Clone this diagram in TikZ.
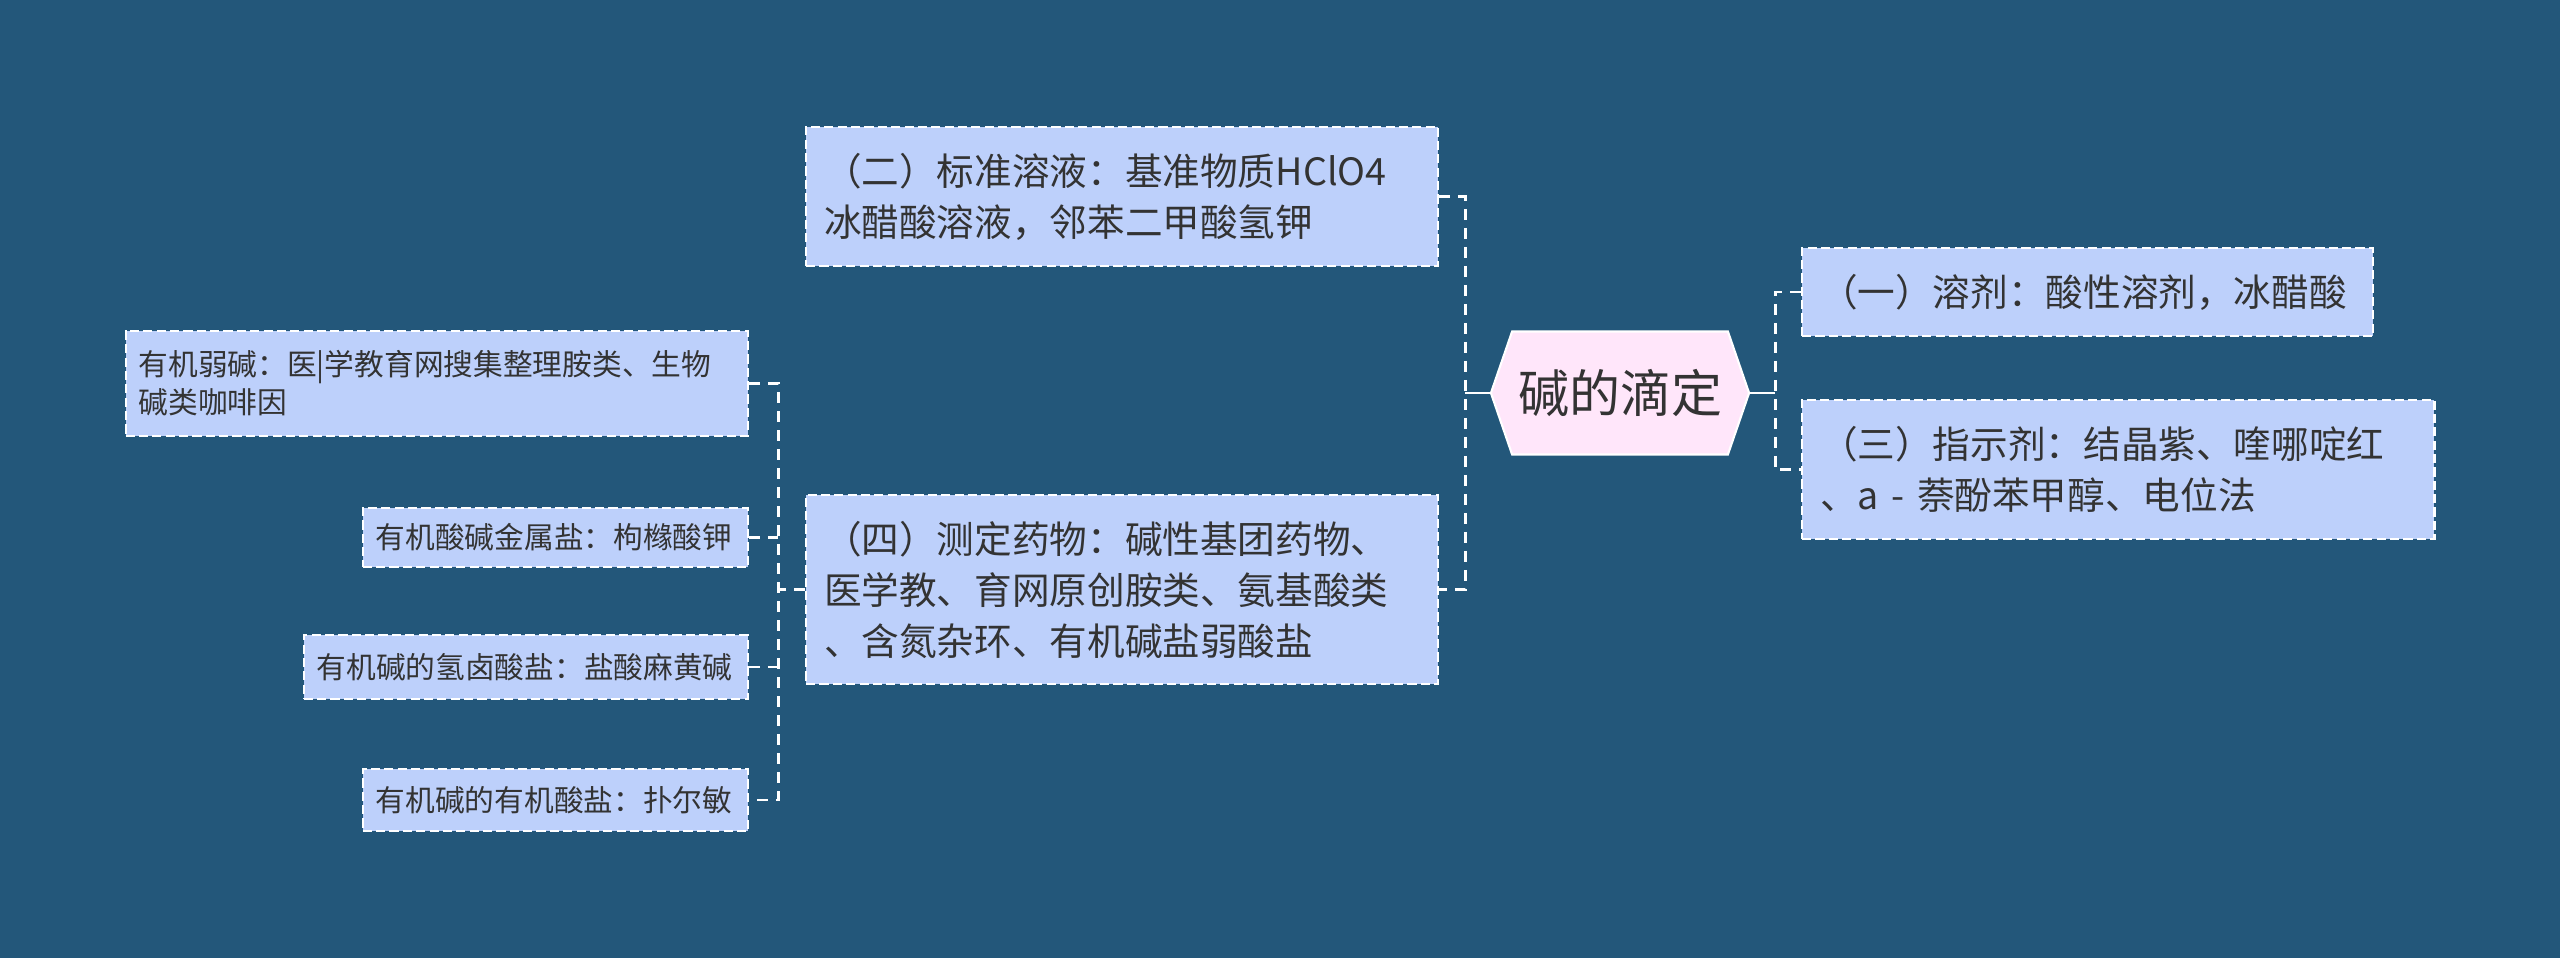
\documentclass[tikz,border=0pt]{standalone}
\usepackage{fontspec}
\setmainfont{Noto Sans CJK SC}
\usetikzlibrary{shapes.symbols}
\definecolor{bgblue}{HTML}{23577A}
\definecolor{boxblue}{HTML}{BDD0FB}
\definecolor{rootpink}{HTML}{FFE6FA}
\definecolor{inkgray}{HTML}{333333}
\begin{document}
\begin{tikzpicture}[x=0.01cm, y=-0.01cm,
    topic/.style={draw=white, line width=0.6pt, dash pattern=on 2.6pt off 1.2pt,
      fill=boxblue, text=inkgray, align=left, inner xsep=0.18cm, inner ysep=0pt,
      font=\fontsize{10.7pt}{14.5pt}\selectfont},
    leaf/.style={topic, inner xsep=0.13cm, font=\fontsize{8.45pt}{10.8pt}\selectfont},
    link/.style={draw=white, line width=0.85pt, dash pattern=on 3.1pt off 2.3pt},
    stem/.style={draw=white, line width=0.85pt}]
  \fill[bgblue] (0,0) rectangle (2560,958);
  \useasboundingbox (0,0) rectangle (2560,958);
  % centre
  \node[signal, signal to=west and east, signal pointer angle=142, draw=white,
    line width=0.6pt, fill=rootpink, text=inkgray, inner sep=0pt,
    font=\fontsize{14.5pt}{17pt}\selectfont,
    minimum width=2.58cm, minimum height=1.23cm] (root) at (1620,393) {碱的滴定};
  % right side
  \node[topic, text width=5.35cm, minimum height=0.88cm, anchor=west] (solvent)
    at (1801,292) {（一）溶剂：酸性溶剂，冰醋酸};
  \node[topic, text width=5.96cm, minimum height=1.39cm, anchor=west] (indicator)
    at (1801,469.5) {（三）指示剂：结晶紫、喹哪啶红\\、a - 萘酚苯甲醇、电位法};
  % left side
  \node[topic, text width=5.96cm, minimum height=1.39cm, anchor=west] (standard)
    at (805,196.5) {（二）标准溶液：基准物质HClO4\\冰醋酸溶液，邻苯二甲酸氢钾};
  \node[topic, text width=5.96cm, minimum height=1.89cm, anchor=west] (drugs)
    at (805,589.5) {（四）测定药物：碱性基团药物、\\医学教、育网原创胺类、氨基酸类\\、含氮杂环、有机碱盐弱酸盐};
  \begin{scope}[every node/.style={leaf, anchor=east}]
    \node[text width=5.96cm, minimum height=1.05cm] (weakbase) at (749,383.5)
      {有机弱碱：医|学教育网搜集整理胺类、生物\\碱类咖啡因};
    \node[text width=3.59cm, minimum height=0.59cm] (metalsalt) at (749,537.5)
      {有机酸碱金属盐：枸橼酸钾};
    \node[text width=4.18cm, minimum height=0.64cm] (halide) at (749,667)
      {有机碱的氢卤酸盐：盐酸麻黄碱};
    \node[text width=3.59cm, minimum height=0.62cm] (orgsalt) at (749,800)
      {有机碱的有机酸盐：扑尔敏};
  \end{scope}
  % connectors
  \coordinate (jl) at (1465,393);
  \coordinate (jr) at (1775,393);
  \coordinate (jm) at (778,589.5);
  \draw[stem] (root.west) -- (jl);
  \draw[stem] (root.east) -- (jr);
  \draw[link] (standard.east) -| (jl) |- (drugs.east);
  \draw[link] (solvent.west) -| (jr) |- (indicator.west);
  \draw[link] (drugs.west) -- (jm);
  \draw[link] (weakbase.east) -| (jm) |- (orgsalt.east);
  \draw[link] (metalsalt.east) -- (metalsalt.east -| jm);
  \draw[link] (halide.east) -- (halide.east -| jm);
\end{tikzpicture}
\end{document}
